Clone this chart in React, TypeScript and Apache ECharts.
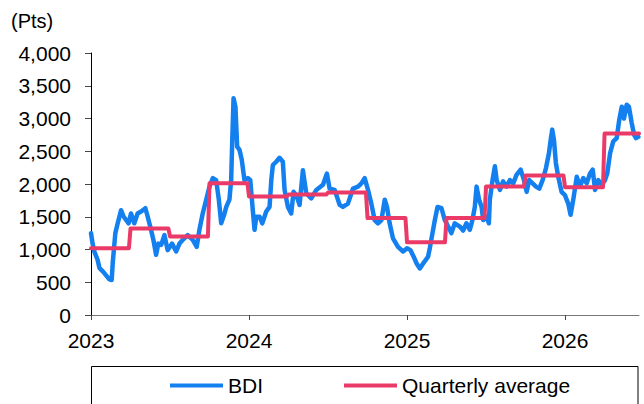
import React, { useEffect, useRef } from "react";
import * as echarts from "echarts";

// BDI (time in decimal years, values in points)
const bdiTime = [
  2023.000, 2023.010, 2023.021, 2023.042, 2023.053, 2023.084, 2023.116, 2023.131, 2023.138, 2023.154,
  2023.169, 2023.190, 2023.207, 2023.238, 2023.253, 2023.274, 2023.295, 2023.317, 2023.344, 2023.359,
  2023.380, 2023.395, 2023.412, 2023.426, 2023.444, 2023.465, 2023.485, 2023.513, 2023.539, 2023.560,
  2023.580, 2023.612, 2023.644, 2023.669, 2023.686, 2023.707, 2023.729, 2023.750, 2023.771, 2023.792,
  2023.809, 2023.824, 2023.845, 2023.856, 2023.876, 2023.887, 2023.894, 2023.902, 2023.914, 2023.925,
  2023.940, 2023.954, 2023.971, 2023.992, 2024.008, 2024.024, 2024.035, 2024.046, 2024.067, 2024.084,
  2024.109, 2024.130, 2024.141, 2024.151, 2024.172, 2024.193, 2024.214, 2024.225, 2024.246, 2024.267,
  2024.282, 2024.299, 2024.320, 2024.341, 2024.362, 2024.394, 2024.426, 2024.468, 2024.493, 2024.510,
  2024.542, 2024.574, 2024.594, 2024.626, 2024.658, 2024.690, 2024.711, 2024.732, 2024.753, 2024.774,
  2024.795, 2024.816, 2024.838, 2024.859, 2024.873, 2024.890, 2024.911, 2024.943, 2024.975, 2025.000,
  2025.022, 2025.042, 2025.060, 2025.081, 2025.106, 2025.133, 2025.144, 2025.161, 2025.176, 2025.193,
  2025.218, 2025.239, 2025.260, 2025.281, 2025.302, 2025.334, 2025.355, 2025.376, 2025.397, 2025.414,
  2025.429, 2025.440, 2025.456, 2025.472, 2025.482, 2025.503, 2025.518, 2025.524, 2025.541, 2025.556,
  2025.567, 2025.588, 2025.608, 2025.630, 2025.651, 2025.672, 2025.693, 2025.719, 2025.740, 2025.757,
  2025.773, 2025.795, 2025.816, 2025.837, 2025.858, 2025.879, 2025.898, 2025.909, 2025.919, 2025.930,
  2025.942, 2025.957, 2025.978, 2025.999, 2026.020, 2026.035, 2026.052, 2026.074, 2026.094, 2026.115,
  2026.137, 2026.158, 2026.175, 2026.190, 2026.210, 2026.232, 2026.253, 2026.267, 2026.285, 2026.305,
  2026.327, 2026.343, 2026.359, 2026.373, 2026.390, 2026.404, 2026.422, 2026.437, 2026.449, 2026.464,
];

const bdiValues = [
  1250, 1090, 970, 840, 720, 640, 545, 535, 810, 1250,
  1400, 1600, 1500, 1400, 1550, 1400, 1550, 1580, 1630, 1500,
  1300, 1145, 920, 1090, 1070, 1220, 990, 1090, 970, 1090,
  1145, 1220, 1145, 1040, 1300, 1550, 1760, 1960, 2090, 2060,
  1760, 1400, 1550, 1650, 1760, 2060, 2670, 3310, 3180, 2570,
  2520, 2370, 2060, 2090, 2060, 1600, 1300, 1500, 1500, 1400,
  1580, 1650, 2060, 2290, 2340, 2400, 2340, 1910, 1650, 1550,
  1880, 1830, 1680, 2210, 1860, 1780, 1910, 1990, 2160, 1930,
  1910, 1680, 1650, 1700, 1930, 1960, 2010, 2090, 1910, 1700,
  1450, 1400, 1450, 1760, 1650, 1400, 1170, 1040, 970, 1020,
  990, 890, 790, 710, 800, 890, 1020, 1250, 1450, 1650,
  1630, 1450, 1350, 1250, 1400, 1350, 1290, 1400, 1300, 1450,
  1650, 1960, 1760, 1650, 1450, 1500, 1400, 1760, 2060, 2270,
  2060, 1910, 2040, 1960, 2060, 2010, 2140, 2220, 2060, 1880,
  2060, 2010, 1960, 1930, 2060, 2240, 2470, 2670, 2830, 2670,
  2320, 2110, 1880, 1830, 1700, 1530, 1760, 2110, 1960, 2090,
  2010, 2160, 2220, 1910, 2060, 1990, 2060, 2160, 2470, 2650,
  2700, 2980, 3180, 3000, 3210, 3180, 2930, 2750, 2700, 2720,
];

// Quarterly averages
const quarterStart = [
  2023.0, 2023.25, 2023.5, 2023.75, 2024.0, 2024.25, 2024.5, 2024.75,
  2025.0, 2025.25, 2025.5, 2025.75, 2026.0, 2026.25,
];
const quarterAvg = [
  1020, 1320, 1200, 2010, 1810, 1840, 1870, 1480,
  1110, 1480, 1960, 2130, 1950, 2770,
];

const xMin = 2023;
const xMax = 2026.468;
const xTicks = [2023, 2024, 2025, 2026];
const yTicks = [0, 500, 1000, 1500, 2000, 2500, 3000, 3500, 4000];

const FONT = '"Liberation Sans", Arial, sans-serif';
const BLUE = "#1480F0";
const PINK = "#EA3A68";

export default function App() {
  const ref = useRef<HTMLDivElement>(null);

  useEffect(() => {
    if (!ref.current) return;
    const chart = echarts.init(ref.current, undefined, { renderer: "svg" });

    const bdiData = bdiTime.map((t, i) => [t, bdiValues[i]]);
    const qData: number[][] = [];
    quarterStart.forEach((s, i) => {
      const end = i + 1 < quarterStart.length ? quarterStart[i + 1] - 0.01 : xMax;
      qData.push([s, quarterAvg[i]]);
      qData.push([end, quarterAvg[i]]);
    });

    chart.setOption({
      animation: false,
      textStyle: { fontFamily: FONT },
      grid: { left: 91, right: 5, top: 53, bottom: 89, containLabel: false },
      xAxis: {
        type: "value",
        min: xMin,
        max: xMax,
        interval: 1,
        axisLine: { lineStyle: { color: "#777", width: 1 } },
        axisTick: { show: true, length: 5, lineStyle: { color: "#444" }, customValues: xTicks },
        axisLabel: {
          fontSize: 21,
          color: "#000",
          margin: 15,
          fontFamily: FONT,
          customValues: xTicks,
          formatter: (v: number) => String(Math.round(v)),
        },
        splitLine: { show: false },
      },
      yAxis: {
        type: "value",
        min: 0,
        max: 4000,
        interval: 500,
        axisLine: { show: true, lineStyle: { color: "#000", width: 1 } },
        axisTick: { show: true, length: 6, lineStyle: { color: "#444" }, customValues: yTicks },
        axisLabel: {
          fontSize: 21,
          color: "#000",
          margin: 20,
          fontFamily: FONT,
          formatter: (v: number) => v.toLocaleString("en-US"),
        },
        splitLine: { show: false },
      },
      legend: {
        left: 170,
        top: 375,
        padding: 0,
        itemWidth: 53,
        itemHeight: 4,
        itemGap: 81,
        textStyle: { fontSize: 21, color: "#000", fontFamily: FONT },
        data: [
          { name: "BDI", icon: "rect" },
          { name: "Quarterly average", icon: "rect" },
        ],
      },
      graphic: [
        {
          type: "text",
          left: 11,
          top: 11,
          style: { text: "(Pts)", font: `20px ${FONT}`, fill: "#000" },
        },
        {
          type: "rect",
          shape: { x: 91.5, y: 366.5, width: 546.5, height: 60 },
          style: { fill: "none", stroke: "#000", lineWidth: 1 },
          silent: true,
        },
      ],
      series: [
        {
          name: "BDI",
          type: "line",
          data: bdiData,
          color: BLUE,
          showSymbol: false,
          symbol: "none",
          lineStyle: { color: BLUE, width: 4.5, cap: "round", join: "round" },
          z: 2,
        },
        {
          name: "Quarterly average",
          type: "line",
          data: qData,
          color: PINK,
          showSymbol: false,
          symbol: "none",
          lineStyle: { color: PINK, width: 4, cap: "round", join: "round" },
          z: 3,
        },
      ],
    });

    return () => chart.dispose();
  }, []);

  return (
    <div
      ref={ref}
      style={{ position: "fixed", left: 0, top: 0, width: 644, height: 404, background: "#fff" }}
    />
  );
}
